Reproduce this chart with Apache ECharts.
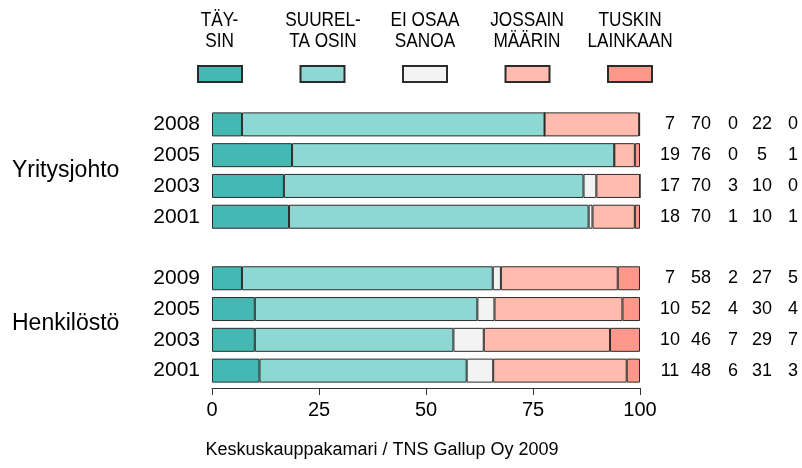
<!DOCTYPE html>
<html>
<head>
<meta charset="utf-8">
<script src="https://cdn.jsdelivr.net/npm/echarts@6/dist/echarts.min.js"></script>
<style>
html,body{margin:0;padding:0;background:#fff;}
#c{width:802px;height:468px;}
</style>
</head>
<body>
<div id="c"></div>
<script>
// ---- data ----
const groups = ['Yritysjohto', 'Henkilöstö'];
const yearsYritys = ['2008', '2005', '2003', '2001'];
const yearsHenk = ['2009', '2005', '2003', '2001'];
const seriesNames = ['TÄYSIN', 'SUURELTA OSIN', 'EI OSAA SANOA', 'JOSSAIN MÄÄRIN', 'TUSKIN LAINKAAN'];
const legendLabels = ['TÄY-\nSIN', 'SUUREL-\nTA OSIN', 'EI OSAA\nSANOA', 'JOSSAIN\nMÄÄRIN', 'TUSKIN\nLAINKAAN'];
const colors = ['#45B8B4', '#8DD8D3', '#F3F3F3', '#FFBBAE', '#FF978A'];

// bar segment values (%), top-to-bottom within each group
const taysinY   = [7.0, 18.7, 16.8, 18.0];
const suureltaY = [70.7, 75.3, 70.0, 70.0];
const eiOsaaY   = [0.0, 0.0, 3.0, 0.9];
const jossainY  = [22.1, 4.8, 10.2, 9.9];
const tuskinY   = [0.2, 1.2, 0.0, 1.2];

const taysinH   = [7.0, 10.0, 10.0, 11.1];
const suureltaH = [58.6, 52.0, 46.4, 48.4];
const eiOsaaH   = [1.9, 4.0, 7.1, 6.2];
const jossainH  = [27.3, 29.9, 29.5, 31.2];
const tuskinH   = [5.2, 4.1, 7.0, 3.1];

// printed numbers on the right, one row per bar
const printedY = [[7, 70, 0, 22, 0], [19, 76, 0, 5, 1], [17, 70, 3, 10, 0], [18, 70, 1, 10, 1]];
const printedH = [[7, 58, 2, 27, 5], [10, 52, 4, 30, 4], [10, 46, 7, 29, 7], [11, 48, 6, 31, 3]];

const xTicks = [0, 25, 50, 75, 100];
const caption = 'Keskuskauppakamari / TNS Gallup Oy 2009';

// ---- build ----
const categories = [...yearsYritys.map((y, i) => 'Y' + i), 'gap', ...yearsHenk.map((y, i) => 'H' + i)];
const catLabel = {};
yearsYritys.forEach((y, i) => catLabel['Y' + i] = y);
yearsHenk.forEach((y, i) => catLabel['H' + i] = y);
catLabel['gap'] = '';

const yVals = [taysinY, suureltaY, eiOsaaY, jossainY, tuskinY];
const hVals = [taysinH, suureltaH, eiOsaaH, jossainH, tuskinH];

const FONT = '"Liberation Sans", Arial, Helvetica, sans-serif';

const series = seriesNames.map((name, k) => ({
  name: name,
  type: 'bar',
  stack: 'all',
  barWidth: 24,
  yAxisIndex: 0,
  xAxisIndex: 0,
  itemStyle: { color: colors[k], borderColor: '#2b2b2b', borderWidth: 1 },
  emphasis: { disabled: true },
  data: [...yVals[k], '-', ...hVals[k]]
}));

const colOffsets = [30, 61, 93, 122, 153];
const extraAxes = colOffsets.map((off, c) => ({
  type: 'category',
  inverse: true,
  position: 'right',
  offset: off,
  data: [...printedY.map(r => String(r[c])), '', ...printedH.map(r => String(r[c]))],
  axisLine: { show: false },
  axisTick: { show: false },
  splitLine: { show: false },
  axisLabel: { margin: 0, align: 'center', fontSize: 18, color: '#000', fontFamily: FONT, interval: 0 }
}));

const legendCenters = [219.5, 323, 425, 527, 630];

const option = {
  animation: false,
  backgroundColor: '#fff',
  textStyle: { fontFamily: FONT },
  grid: { left: 212, right: 162, top: 109, height: 277 },
  legend: {
    data: seriesNames,
    left: 192,
    top: 60,
    itemWidth: 44,
    itemHeight: 16,
    itemGap: 56.5,
    icon: 'rect',
    selectedMode: false,
    formatter: () => '',
    textStyle: { fontSize: 1 }
  },
  xAxis: {
    type: 'value',
    min: 0, max: 100, interval: 25,
    offset: 2,
    axisLine: { show: true, lineStyle: { color: '#333', width: 1 } },
    axisTick: { show: true, length: 7, lineStyle: { color: '#333' } },
    splitLine: { show: false },
    axisLabel: { fontSize: 20, color: '#000', margin: 12, fontFamily: FONT,
      formatter: v => xTicks.includes(v) ? String(v) : '' }
  },
  yAxis: [{
    type: 'category',
    inverse: true,
    data: categories,
    axisLine: { show: false },
    axisTick: { show: false },
    splitLine: { show: false },
    axisLabel: { margin: 12, fontSize: 21, color: '#000', fontFamily: FONT, interval: 0,
      formatter: v => catLabel[v] }
  }, ...extraAxes],
  graphic: [
    ...legendLabels.map((t, i) => ({
      type: 'text',
      x: legendCenters[i], y: 31,
      scaleX: 0.82,
      style: { text: t, fontSize: 21, lineHeight: 21, fontFamily: FONT, fill: '#000', align: 'center', verticalAlign: 'middle' }
    })),
    { type: 'text', x: 12, y: 171, style: { text: groups[0], fontSize: 23, fontFamily: FONT, fill: '#000', align: 'left', verticalAlign: 'middle' } },
    { type: 'text', x: 12, y: 324, style: { text: groups[1], fontSize: 23, fontFamily: FONT, fill: '#000', align: 'left', verticalAlign: 'middle' } },
    { type: 'text', x: 382, y: 450, style: { text: caption, fontSize: 18, fontFamily: FONT, fill: '#000', align: 'center', verticalAlign: 'middle' } }
  ],
  series: series
};

const chart = echarts.init(document.getElementById('c'), null, { renderer: 'canvas' });
chart.setOption(option);
</script>
</body>
</html>
